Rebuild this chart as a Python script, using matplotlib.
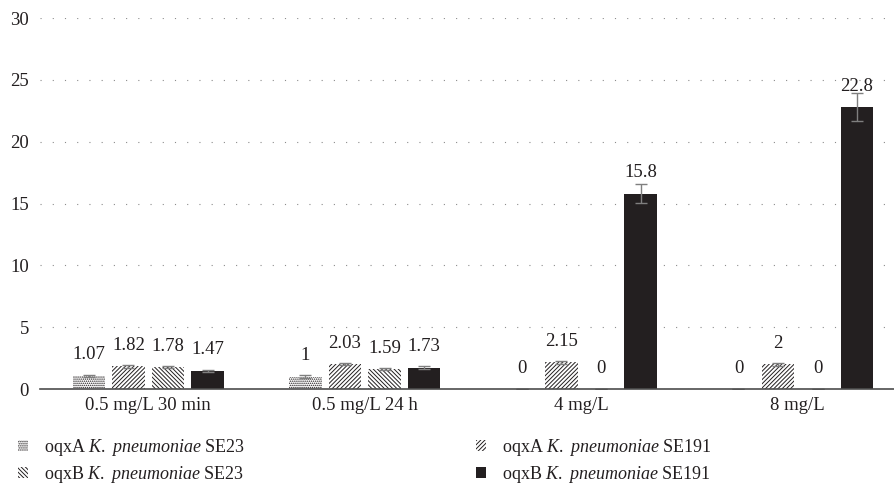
import numpy as np
import matplotlib
matplotlib.use("Agg")
import matplotlib.pyplot as plt
from matplotlib.patches import Patch

plt.rcParams['font.family'] = ['Liberation Serif', 'DejaVu Serif']
plt.rcParams['mathtext.fontset'] = 'custom'
plt.rcParams['mathtext.rm'] = 'Liberation Serif'
plt.rcParams['mathtext.it'] = 'Liberation Serif:italic'
plt.rcParams['hatch.linewidth'] = 0.7

groups = ['0.5 mg/L 30 min', '0.5 mg/L 24 h', '4 mg/L', '8 mg/L']
oqxA_SE23 = [1.07, 1, 0, 0]
oqxA_SE191 = [1.82, 2.03, 2.15, 2]
oqxB_SE23 = [1.78, 1.59, 0, 0]
oqxB_SE191 = [1.47, 1.73, 15.8, 22.8]
err_oqxA_SE23 = [0.08, 0.1, 0, 0]
err_oqxA_SE191 = [0.1, 0.1, 0.1, 0.1]
err_oqxB_SE23 = [0.08, 0.08, 0, 0]
err_oqxB_SE191 = [0.08, 0.1, 0.75, 1.1]
value_text = [['1.07', '1', '0', '0'],
              ['1.82', '2.03', '2.15', '2'],
              ['1.78', '1.59', '0', '0'],
              ['1.47', '1.73', '15.8', '22.8']]

dark = '#231f20'
labels = ['oqxA $\\mathit{K.}$ $\\mathit{pneumoniae}$ SE23',
          'oqxA $\\mathit{K.}$ $\\mathit{pneumoniae}$ SE191',
          'oqxB $\\mathit{K.}$ $\\mathit{pneumoniae}$ SE23',
          'oqxB $\\mathit{K.}$ $\\mathit{pneumoniae}$ SE191']
series = [oqxA_SE23, oqxA_SE191, oqxB_SE23, oqxB_SE191]
errs = [err_oqxA_SE23, err_oqxA_SE191, err_oqxB_SE23, err_oqxB_SE191]
hatches = ['........', '////////', '\\\\\\\\\\\\\\\\', None]
faces = ['white', 'white', 'white', dark]

fig = plt.figure(figsize=(8.94, 4.90), dpi=100)
ax = fig.add_axes([40 / 894, 1 - 389 / 490, 854 / 894, (389 - 18) / 490])

x = np.arange(len(groups))
spacing = 0.1825
width = 0.148
handles = []
for i, (vals, e) in enumerate(zip(series, errs)):
    pos = x + (i - 1.5) * spacing
    ax.bar(pos, vals, width, color=faces[i], edgecolor=dark, linewidth=0,
           hatch=hatches[i], zorder=2)
    ax.errorbar(pos, vals, yerr=e, fmt='none', ecolor='#7f7f7f', elinewidth=1,
                capsize=4, capthick=1, zorder=3)
    for p, v, t in zip(pos, vals, value_text[i]):
        ax.annotate(t, (p, v), xytext=(0, 15), textcoords='offset points',
                    ha='center', va='center', fontsize=13.5, color=dark)
    handles.append(Patch(facecolor=faces[i], edgecolor=dark, linewidth=0,
                         hatch=hatches[i], label=labels[i]))

ax.set_ylim(0, 30)
ax.set_xlim(-0.5, -0.5 + 854 / 216.5)
ax.set_yticks(np.arange(0, 31, 5))
ax.set_xticks(x)
ax.set_xticklabels(groups)
ax.tick_params(axis='both', length=0, labelsize=13.5, colors=dark)
ax.tick_params(axis='y', pad=8)
ax.tick_params(axis='x', pad=6)
ax.yaxis.grid(True, color='#8c8c8c', linewidth=0.8, linestyle=(0, (1, 10)), zorder=0)
ax.set_axisbelow(True)
for s in ['left', 'right', 'top']:
    ax.spines[s].set_visible(False)
ax.spines['bottom'].set_color('#4d4d4d')
ax.spines['bottom'].set_linewidth(1.2)
ax.spines['bottom'].set_zorder(4)

leg_kw = dict(frameon=False, fontsize=13, handlelength=0.55, handleheight=0.55,
              handletextpad=0.9, labelspacing=0.35, loc='upper left',
              labelcolor=dark, borderpad=0, borderaxespad=0)
fig.legend(handles=[handles[0], handles[2]], bbox_to_anchor=(18 / 894, 1 - 437 / 490), **leg_kw)
fig.legend(handles=[handles[1], handles[3]], bbox_to_anchor=(476 / 894, 1 - 437 / 490), **leg_kw)

fig.savefig('out.png', dpi=100)
